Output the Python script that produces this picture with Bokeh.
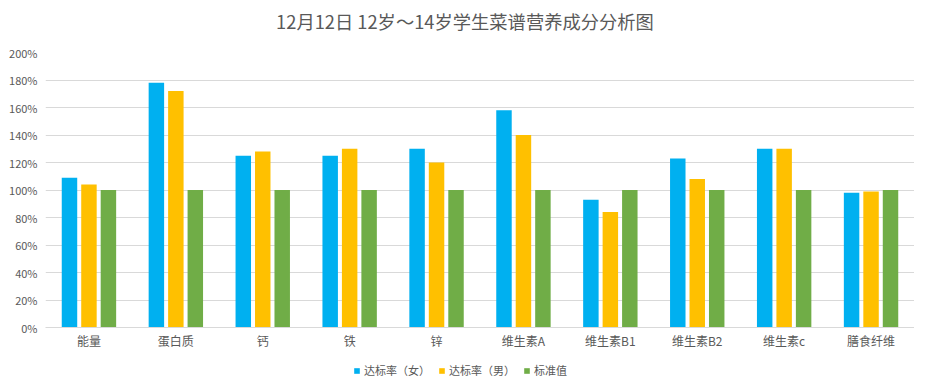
from bokeh.plotting import figure
from bokeh.layouts import column
from bokeh.models import FactorRange, Legend, LegendItem, NumeralTickFormatter, FixedTicker, Range1d, ColumnDataSource, Label
from bokeh.transform import dodge
from bokeh.embed import file_html
from bokeh.resources import INLINE

categories = ["能量", "蛋白质", "钙", "铁", "锌", "维生素A", "维生素B1", "维生素B2", "维生素c", "膳食纤维"]
female = [1.09, 1.78, 1.25, 1.25, 1.30, 1.58, 0.93, 1.23, 1.30, 0.98]
male = [1.04, 1.72, 1.28, 1.30, 1.20, 1.40, 0.84, 1.08, 1.30, 0.99]
standard = [1.0, 1.0, 1.0, 1.0, 1.0, 1.0, 1.0, 1.0, 1.0, 1.0]
series_names = ["达标率（女）", "达标率（男）", "标准值"]
y_ticks = [0, 0.2, 0.4, 0.6, 0.8, 1.0, 1.2, 1.4, 1.6, 1.8, 2.0]
title_text = "12月12日 12岁～14岁学生菜谱营养成分分析图"

FONT = "Noto Sans CJK SC"
TXT = "#595959"
colors = ["#00B0F0", "#FFC000", "#70AD47"]

# title strip
tt = figure(width=914, height=40, output_backend="svg", toolbar_location=None,
            x_axis_type=None, y_axis_type=None, title_location=None,
            min_border_left=45, min_border_right=0, min_border_top=0, min_border_bottom=0,
            x_range=Range1d(0, 1), y_range=Range1d(0, 1))
tt.outline_line_color = None
tt.xgrid.grid_line_color = None
tt.ygrid.grid_line_color = None
tt.add_layout(Label(x=0.4827, y=0.5, text=title_text, text_align="center", text_baseline="middle",
                    text_font=FONT, text_font_size="18.3px", text_color=TXT))

src = ColumnDataSource(dict(cat=categories, f=female, m=male, s=standard))

p = figure(x_range=FactorRange(*categories), y_range=Range1d(0, 2.0),
           frame_width=869, frame_height=275, output_backend="svg", toolbar_location=None,
           title_location=None,
           min_border_left=45, min_border_right=0, min_border_top=12, min_border_bottom=25)
p.x_range.range_padding = 0
p.x_range.factor_padding = 0

off = 0.224
bw = 0.178
p.vbar(x=dodge("cat", -off, range=p.x_range), top="f", width=bw, source=src, color=colors[0], line_color=None)
p.vbar(x=dodge("cat", 0, range=p.x_range), top="m", width=bw, source=src, color=colors[1], line_color=None)
p.vbar(x=dodge("cat", off, range=p.x_range), top="s", width=bw, source=src, color=colors[2], line_color=None)

p.outline_line_color = None
p.xgrid.grid_line_color = None
p.ygrid.grid_line_color = "#d9d9d9"
p.ygrid.grid_line_width = 1

p.yaxis.ticker = FixedTicker(ticks=y_ticks)
p.yaxis.formatter = NumeralTickFormatter(format="0%")
p.yaxis.axis_line_color = None
p.yaxis.major_tick_line_color = None
p.yaxis.minor_tick_line_color = None
p.yaxis.major_tick_out = 0
p.yaxis.major_label_standoff = 8
p.yaxis.major_label_text_font = FONT
p.yaxis.major_label_text_font_size = "11px"
p.yaxis.major_label_text_color = TXT

p.xaxis.axis_line_color = "#d9d9d9"
p.xaxis.major_tick_line_color = None
p.xaxis.minor_tick_line_color = None
p.xaxis.major_tick_out = 0
p.xaxis.major_label_standoff = 4
p.xaxis.major_label_text_font = FONT
p.xaxis.major_label_text_font_size = "12px"
p.xaxis.major_label_text_color = TXT

# legend strip below the chart (zero-height proxy bars only carry the legend swatches)
lg = figure(width=914, height=36, output_backend="svg", toolbar_location=None,
            x_axis_type=None, y_axis_type=None, title_location=None,
            min_border_left=45, min_border_right=0, min_border_top=0, min_border_bottom=0,
            x_range=Range1d(0, 1), y_range=Range1d(0, 1))
lg.outline_line_color = None
lg.xgrid.grid_line_color = None
lg.ygrid.grid_line_color = None
proxy_src = ColumnDataSource(dict(x=[0.0], y=[0.0]))
proxies = [lg.vbar(x="x", top="y", width=0.0, source=proxy_src, color=c, line_color=None) for c in colors]

legend = Legend(items=[LegendItem(label=n, renderers=[r]) for n, r in zip(series_names, proxies)],
                orientation="horizontal", location=(308, 10))
legend.label_text_font = FONT
legend.label_text_font_size = "11px"
legend.label_text_color = TXT
legend.glyph_width = 7
legend.glyph_height = 7
legend.label_standoff = 4
legend.spacing = 8
legend.padding = 0
legend.margin = 0
legend.border_line_color = None
legend.background_fill_alpha = 0
lg.add_layout(legend, "center")

layout = column(tt, p, lg, spacing=0)
open("out.html", "w").write(file_html(layout, INLINE))
